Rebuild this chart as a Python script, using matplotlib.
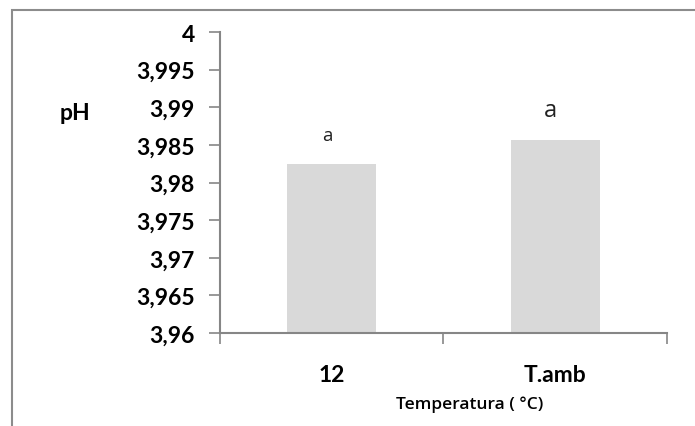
import matplotlib
matplotlib.use("Agg")
import matplotlib.pyplot as plt
from matplotlib.patches import Rectangle
from matplotlib.ticker import FixedLocator, FuncFormatter

categories = ["12", "T.amb"]
ph_values = [3.9825, 3.9857]
letters = ["a", "a"]
letter_sizes = [13.5, 17]
yticks = [3.96, 3.965, 3.97, 3.975, 3.98, 3.985, 3.99, 3.995, 4.0]

BAR = "#d9d9d9"
AXIS = "#868686"
FONT = "Lato"

fig = plt.figure(figsize=(6.95, 4.27), dpi=100, facecolor="white")
ax = fig.add_axes([0.3165, 0.2178, 0.6432, 0.7049])

x = list(range(len(categories)))
ax.bar(x, ph_values, width=0.4, color=BAR, zorder=2)
for xi, v, lab, fs in zip(x, ph_values, letters, letter_sizes):
    ax.annotate(lab, (xi - 0.02, v), xytext=(0, 21), textcoords="offset points",
                ha="center", va="center", fontsize=fs, family="Open Sans", color="#222")

ax.set_xlim(-0.5, 1.5)
ax.set_ylim(3.96, 4.0)
ax.set_yticks(yticks)
ax.yaxis.set_major_formatter(FuncFormatter(lambda v, p: f"{v:.3f}".rstrip("0").rstrip(".").replace(".", ",")))

ax.set_xticks(x)
ax.set_xticklabels(categories)
ax.xaxis.set_minor_locator(FixedLocator([-0.5, 0.5, 1.5]))
ax.tick_params(axis="x", which="major", length=0, pad=22)
ax.tick_params(axis="x", which="minor", length=8, width=1.2, color=AXIS, direction="out")
ax.tick_params(axis="y", length=8, width=1.2, color=AXIS, direction="out", pad=10)
for lab in ax.get_xticklabels() + ax.get_yticklabels():
    lab.set_fontweight("bold")
    lab.set_fontsize(16.5)
    lab.set_family(FONT)

for s in ["top", "right"]:
    ax.spines[s].set_visible(False)
for s in ["left", "bottom"]:
    ax.spines[s].set_color(AXIS)
    ax.spines[s].set_linewidth(1.5)

fig.text(75 / 695, 1 - 113 / 427, "pH", ha="center", va="center",
         fontsize=16.5, fontweight="bold", family=FONT)
fig.text(470 / 695, 1 - 405 / 427, "Temperatura ( °C)", ha="center", va="center",
         fontsize=12.5, fontweight="semibold", family="Open Sans")

fig.patches.append(Rectangle((12 / 695, -0.1), 1.2, 1 - 11 / 427 + 0.1,
                             transform=fig.transFigure, fill=False,
                             edgecolor="#8c8c8c", linewidth=1.5))

fig.savefig("out.png", dpi=100, facecolor="white")
